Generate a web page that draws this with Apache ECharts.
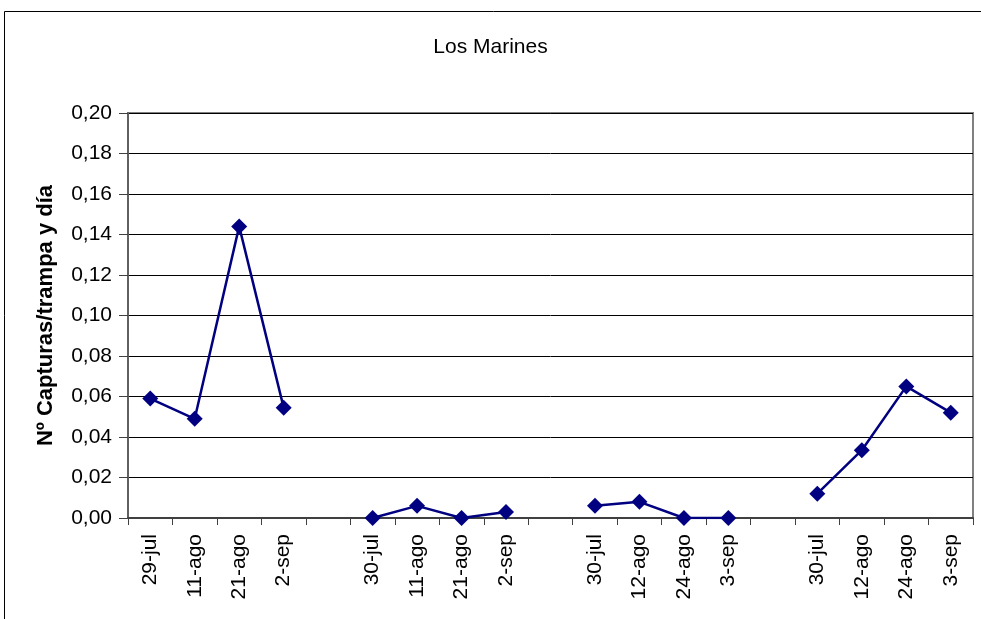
<!DOCTYPE html>
<html>
<head>
<meta charset="utf-8">
<script src="https://cdn.jsdelivr.net/npm/echarts@6/dist/echarts.min.js"></script>
<style>html,body{margin:0;padding:0;background:#fff;}#c{width:981px;height:619px;}</style>
</head>
<body>
<div id="c"></div>
<script>
// Four sampling groups, each with its own dates and values
const group1Dates = ['29-jul', '11-ago', '21-ago', '2-sep'];
const group1Values = [0.059, 0.049, 0.144, 0.0545];
const group2Dates = ['30-jul', '11-ago', '21-ago', '2-sep'];
const group2Values = [0.0, 0.006, 0.0, 0.003];
const group3Dates = ['30-jul', '12-ago', '24-ago', '3-sep'];
const group3Values = [0.006, 0.008, 0.0, 0.0];
const group4Dates = ['30-jul', '12-ago', '24-ago', '3-sep'];
const group4Values = [0.012, 0.0335, 0.065, 0.052];
const yTicks = ['0,00','0,02','0,04','0,06','0,08','0,10','0,12','0,14','0,16','0,18','0,20'];
const titleText = 'Los Marines';
const yAxisTitle = 'Nº Capturas/trampa y día';

// Build category axis with an empty spacer between groups
const groupsDates = [group1Dates, group2Dates, group3Dates, group4Dates];
const groupsValues = [group1Values, group2Values, group3Values, group4Values];
const categories = [];
const values = [];
groupsDates.forEach((d, gi) => {
  if (gi > 0) { categories.push(''); values.push(null); }
  d.forEach((lab, i) => { categories.push(lab); values.push(groupsValues[gi][i]); });
});

const FONT = '"Liberation Sans", Arial, sans-serif';
const chart = echarts.init(document.getElementById('c'), null, {renderer: 'canvas'});
chart.setOption({
  backgroundColor: '#fff',
  animation: false,
  title: {
    text: titleText,
    left: 'center',
    top: 32,
    textStyle: {fontFamily: FONT, fontSize: 21, fontWeight: 'normal', color: '#000'}
  },
  graphic: [{
    type: 'rect',
    shape: {x: 4.5, y: 11.5, width: 1000, height: 700},
    style: {fill: 'none', stroke: '#000', lineWidth: 1},
    silent: true
  }],
  grid: {
    left: 128, right: 8, top: 113, bottom: 101,
    containLabel: false,
    outerBoundsMode: 'none',
    show: true,
    borderColor: '#808080',
    borderWidth: 2,
    backgroundColor: 'transparent'
  },
  xAxis: {
    type: 'category',
    data: categories,
    boundaryGap: true,
    axisLine: {show: true, lineStyle: {color: '#404040', width: 2}},
    axisTick: {show: true, length: 7, interval: 0, lineStyle: {color: '#404040', width: 1}},
    axisLabel: {
      interval: 0, rotate: 90, margin: 16,
      fontFamily: FONT, fontSize: 21, color: '#000'
    },
    splitLine: {show: false}
  },
  yAxis: {
    type: 'value',
    min: 0, max: 0.2, interval: 0.02,
    name: yAxisTitle,
    nameLocation: 'middle',
    nameGap: 71,
    nameRotate: 90,
    nameTextStyle: {fontFamily: FONT, fontSize: 22, fontWeight: 'bold', color: '#000'},
    axisLine: {show: true, lineStyle: {color: '#606060', width: 2}},
    axisTick: {show: true, length: 9, lineStyle: {color: '#404040', width: 1}},
    axisLabel: {
      margin: 16,
      fontFamily: FONT, fontSize: 21, color: '#000',
      formatter: (v) => yTicks[Math.round(v / 0.02)]
    },
    splitLine: {show: true, lineStyle: {color: '#000', width: 1}}
  },
  series: [{
    type: 'line',
    data: values,
    connectNulls: false,
    symbol: 'diamond',
    symbolSize: 16,
    showSymbol: true,
    itemStyle: {color: '#000080'},
    lineStyle: {color: '#000080', width: 2.5},
    emphasis: {disabled: true}
  }]
});
</script>
</body>
</html>
